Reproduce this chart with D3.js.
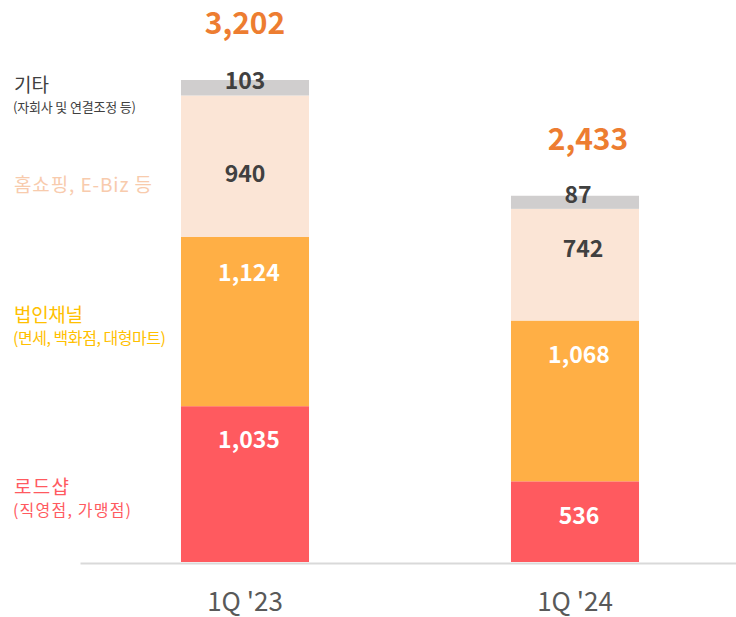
<!DOCTYPE html>
<html>
<head>
<meta charset="utf-8">
<script src="https://cdn.jsdelivr.net/npm/d3@7"></script>
<style>
  body { margin: 0; background: #fff; }
  svg { display: block; font-family: "Noto Sans CJK KR", "Noto Sans", sans-serif; }
</style>
</head>
<body>
<div id="chart"></div>
<script>
// ---------------------------------------------------------------------------
// Data
// ---------------------------------------------------------------------------
var categories = ["1Q '23", "1Q '24"];
var layerKeys = ["road", "corp", "home", "etc"];
var layerNames = ["로드샵", "법인채널", "홈쇼핑, E-Biz 등", "기타"];
var layerNotes = ["(직영점, 가맹점)", "(면세, 백화점, 대형마트)", "", "(자회사 및 연결조정 등)"];
var roadValues = [1035, 536];
var corpValues = [1124, 1068];
var homeValues = [940, 742];
var etcValues = [103, 87];
var totals = [3202, 2433];

// ---------------------------------------------------------------------------
// Style / layout
// ---------------------------------------------------------------------------
var WIDTH = 736, HEIGHT = 617;
var layerColors = ["#ff5a5f", "#ffaf45", "#fbe5d6", "#d0cece"];
var legendColors = ["#ff5a5f", "#ffc000", "#f8cbad", "#404040"];
var labelColors = ["#ffffff", "#ffffff", "#404040", "#404040"];
// baseline offset of value labels from segment top, and x nudge
var labelDy = [[42, 43], [44, 42], [86, 48], [9, 7]];
var labelDx = [[4, 4], [4, 4], [0, 8], [0, 3]];
var totalDx = [0, 13];
var legendY = [494, 322, 192, 92];
var legendWidth = [55, 69, 138, 0];
var noteSize = [16, 16, 0, 13];
var noteWidth = [118, 153, 0, 123];

var rows = categories.map(function(c, i) {
  return {cat: c, road: roadValues[i], corp: corpValues[i], home: homeValues[i], etc: etcValues[i], total: totals[i]};
});

var series = d3.stack().keys(layerKeys)(rows);

var x = d3.scaleBand()
    .domain(categories)
    .range([80, 740])
    .paddingInner(0.612)
    .paddingOuter(0.306);

var y = d3.scaleLinear()
    .domain([0, d3.max(totals)])
    .range([562, 80]);

var svg = d3.select("#chart").append("svg")
    .attr("width", WIDTH)
    .attr("height", HEIGHT);

// bars
var layers = svg.selectAll("g.layer")
    .data(series)
  .enter().append("g")
    .attr("class", "layer")
    .attr("fill", function(d, i) { return layerColors[i]; });

layers.selectAll("rect")
    .data(function(d) { return d; })
  .enter().append("rect")
    .attr("x", function(d) { return x(d.data.cat); })
    .attr("y", function(d) { return y(d[1]); })
    .attr("width", x.bandwidth())
    .attr("height", function(d) { return y(d[0]) - y(d[1]); });

// value labels
series.forEach(function(s, li) {
  svg.append("g").selectAll("text")
      .data(s)
    .enter().append("text")
      .attr("x", function(d, ci) { return x(d.data.cat) + x.bandwidth() / 2 + labelDx[li][ci]; })
      .attr("y", function(d, ci) { return y(d[1]) + labelDy[li][ci]; })
      .attr("text-anchor", "middle")
      .attr("font-size", 23)
      .attr("font-weight", "bold")
      .attr("fill", labelColors[li])
      .text(function(d) { return d3.format(",")(d[1] - d[0]); });
});

// totals
svg.append("g").selectAll("text")
    .data(rows)
  .enter().append("text")
    .attr("x", function(d, i) { return x(d.cat) + x.bandwidth() / 2 + totalDx[i]; })
    .attr("y", function(d) { return y(d.total) - 46; })
    .attr("text-anchor", "middle")
    .attr("font-size", 30)
    .attr("font-weight", "bold")
    .attr("fill", "#ed7d31")
    .text(function(d) { return d3.format(",")(d.total); });

// axis
var xAxis = svg.append("g")
    .attr("transform", "translate(0,563)")
    .call(d3.axisBottom(x).tickSize(0).tickPadding(30));

xAxis.select(".domain")
    .attr("stroke", "#d9d9d9")
    .attr("stroke-width", 2);

xAxis.selectAll(".tick text")
    .attr("font-family", "\"Noto Sans CJK KR\", sans-serif")
    .attr("font-size", 26)
    .attr("fill", "#595959");

// legend labels on the left
var legend = svg.append("g");
layerNames.forEach(function(name, i) {
  var t = legend.append("text")
      .attr("x", 14)
      .attr("y", legendY[i])
      .attr("font-size", 19)
      .attr("fill", legendColors[i])
      .text(name);
  if (legendWidth[i]) {
    t.attr("textLength", legendWidth[i]).attr("lengthAdjust", "spacing");
  }
  if (layerNotes[i]) {
    legend.append("text")
        .attr("x", 13)
        .attr("y", legendY[i] + (i === 3 ? 20 : 22))
        .attr("font-size", noteSize[i])
        .attr("fill", legendColors[i])
        .attr("textLength", noteWidth[i])
        .attr("lengthAdjust", "spacing")
        .text(layerNotes[i]);
  }
});
</script>
</body>
</html>
